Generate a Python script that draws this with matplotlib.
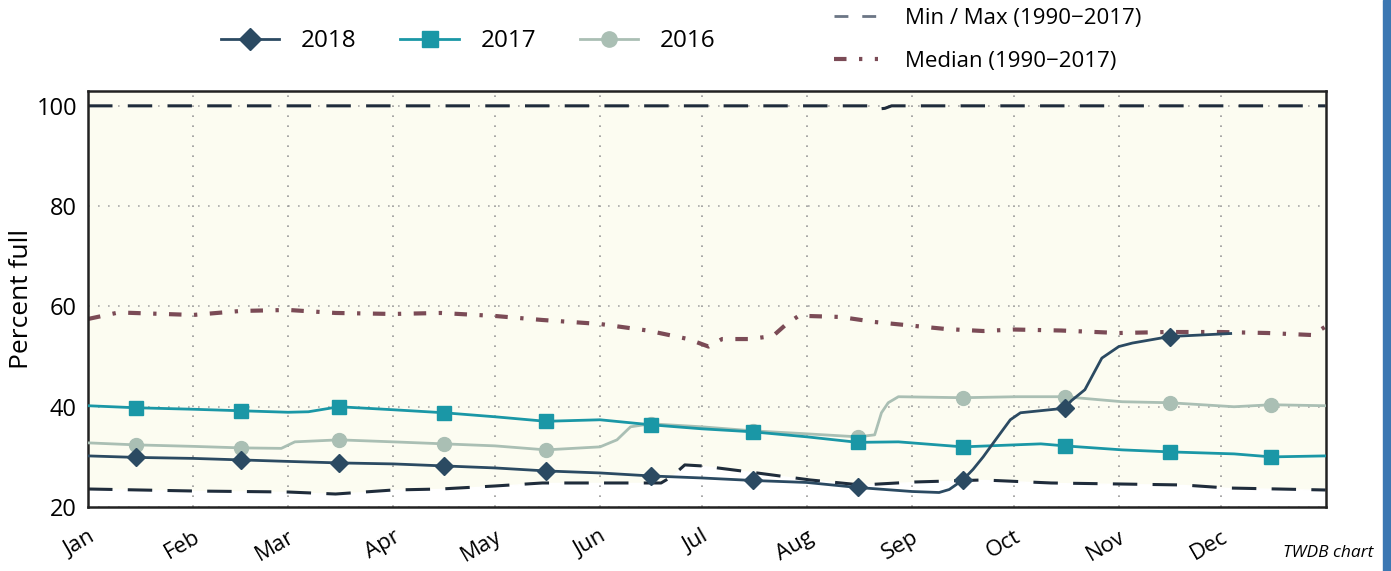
import matplotlib
matplotlib.use("Agg")
import matplotlib.pyplot as plt
from matplotlib.lines import Line2D
from matplotlib.patches import Rectangle

plt.rcParams['font.family'] = ['Open Sans', 'DejaVu Sans']

# day of year -> percent full
d2018 = [1, 15, 32, 46, 60, 75, 91, 106, 121, 136, 152, 167, 182, 197, 213, 228, 244, 252, 255,
         259, 262, 265, 268, 273, 276, 289, 291, 295, 300, 305, 309, 320, 338]
v2018 = [30.2, 29.9, 29.7, 29.4, 29.1, 28.8, 28.6, 28.2, 27.8, 27.2, 26.8, 26.2, 25.8, 25.3, 24.9, 23.9,
         23.1, 22.9, 23.5, 25.4, 27.5, 30.0, 32.8, 37.4, 38.8, 39.7, 41.2, 43.4, 49.7, 52.0, 52.7, 54.0, 54.6]

d2017 = [1, 15, 32, 46, 60, 66, 75, 91, 106, 121, 136, 152, 167, 182, 197, 213, 228, 240,
         259, 282, 289, 306, 320, 339, 350, 366]
v2017 = [40.2, 39.8, 39.5, 39.2, 38.9, 39.0, 40.0, 39.4, 38.8, 38.0, 37.1, 37.4, 36.4, 35.6, 35.0, 34.0,
         32.9, 33.0, 32.0, 32.6, 32.2, 31.4, 31.0, 30.6, 30.0, 30.2]

d2016 = [1, 15, 32, 46, 58, 62, 75, 91, 106, 121, 136, 152, 157, 161, 167, 182, 197, 213, 228,
         233, 235, 237, 240, 259, 275, 289, 306, 320, 339, 350, 366]
v2016 = [32.8, 32.4, 32.1, 31.8, 31.7, 33.0, 33.4, 33.0, 32.6, 32.2, 31.4, 32.0, 33.4, 36.0, 36.6, 36.0,
         35.2, 34.6, 34.0, 34.4, 38.8, 40.8, 42.0, 41.8, 42.0, 42.0, 41.0, 40.8, 40.0, 40.4, 40.2]

d_min = [1, 32, 60, 74, 91, 105, 121, 135, 152, 170, 173, 177, 182, 196, 214, 229, 245, 265,
         285, 305, 324, 337, 352, 366]
v_min = [23.6, 23.2, 23.0, 22.6, 23.4, 23.6, 24.2, 24.8, 24.8, 24.8, 26.0, 28.4, 28.2, 27.0, 25.4, 24.4,
         25.0, 25.4, 24.8, 24.6, 24.4, 23.8, 23.6, 23.4]

d_max = [1, 231, 233, 236, 238, 366]
v_max = [100, 100, 99.3, 99.5, 100, 100]

d_med = [1, 10, 32, 46, 60, 74, 91, 105, 121, 135, 152, 166, 178, 184, 188, 196, 203, 207, 211,
         213, 223, 233, 245, 254, 265, 274, 288, 305, 319, 335, 349, 362, 366]
v_med = [57.5, 58.8, 58.3, 59.1, 59.3, 58.7, 58.5, 58.7, 58.1, 57.3, 56.5, 55.2, 53.5, 52.0, 53.5, 53.5,
         54.1, 56.5, 58.3, 58.1, 57.9, 56.9, 56.1, 55.5, 55.1, 55.4, 55.2, 54.7, 54.9, 54.9, 54.7, 54.3, 56.0]

month_start = [1, 32, 60, 91, 121, 152, 182, 213, 244, 274, 305, 335]
months = ["Jan", "Feb", "Mar", "Apr", "May", "Jun", "Jul", "Aug", "Sep", "Oct", "Nov", "Dec"]
mid_days = [15, 46, 75, 106, 136, 167, 197, 228, 259, 289, 320, 350]

C18 = "#2b4a62"
C17 = "#1a97a6"
C16 = "#aabfb4"
CMED = "#7b4b56"
CMM = "#1f2c3b"


def marks(days):
    return [i for i, d in enumerate(days) if d in mid_days]


fig = plt.figure(figsize=(13.91, 5.71), dpi=100)
ax = fig.add_axes([0.0633, 0.112, 0.8897, 0.729])
ax.set_facecolor("#fcfcf1")

ax.fill_between(d_min, 19, v_min, color="white", zorder=1)

for y in [20, 40, 60, 80, 100]:
    ax.axhline(y, color="#aaaaaa", lw=1.2, ls=(0, (1, 5)), zorder=1.5)
for x in month_start[1:]:
    ax.axvline(x, color="#999999", lw=1.2, ls=(0, (1, 5)), zorder=1.5)

ax.plot(d_max, v_max, color=CMM, lw=2.2, ls=(0, (8, 5)), zorder=2)
ax.plot(d_min, v_min, color=CMM, lw=2.2, ls=(0, (8, 5)), zorder=2)
ax.plot(d_med, v_med, color=CMED, lw=3, ls=(0, (3, 3, 0.8, 3)), zorder=2)

ax.plot(d2016, v2016, color=C16, lw=2, marker="o", ms=10, markevery=marks(d2016), zorder=3)
ax.plot(d2017, v2017, color=C17, lw=2, marker="s", ms=10, markevery=marks(d2017), zorder=4)
ax.plot(d2018, v2018, color=C18, lw=2, marker="D", ms=9.5, markevery=marks(d2018), zorder=5)

ax.set_xlim(1, 366)
ax.set_ylim(20, 103)
ax.set_yticks([20, 40, 60, 80, 100])
ax.set_xticks(month_start)
ax.set_xticklabels(months, rotation=30, ha="right", rotation_mode="anchor")
ax.tick_params(axis="y", labelsize=17, length=0, pad=8)
ax.tick_params(axis="x", labelsize=16, length=0, pad=14)
ax.set_ylabel("Percent full", fontsize=19)
ax.yaxis.set_label_coords(-0.044, 0.5)
for s in ax.spines.values():
    s.set_linewidth(1.8)
    s.set_color("#222222")

h1 = [Line2D([], [], color=C18, lw=2, marker="D", ms=11),
      Line2D([], [], color=C17, lw=2, marker="s", ms=11),
      Line2D([], [], color=C16, lw=2, marker="o", ms=11)]
leg1 = fig.legend(h1, ["2018", "2017", "2016"], loc="center left", bbox_to_anchor=(0.143, 0.928),
                  ncol=3, frameon=False, fontsize=17.5, handlelength=2.4, handletextpad=0.9,
                  columnspacing=1.8)

h2 = [Line2D([], [], color="#6b7685", lw=2, ls=(0, (5, 5))),
      Line2D([], [], color=CMED, lw=3, ls=(0, (3, 3, 0.8, 3)))]
leg2 = fig.legend(h2, ["Min / Max (1990\u22122017)", "Median (1990\u22122017)"], loc="center left",
                  bbox_to_anchor=(0.585, 0.93), frameon=False, fontsize=16, handlelength=2.0,
                  handletextpad=1.2, labelspacing=1.0)

fig.text(0.987, 0.018, "TWDB chart", fontsize=12.5, style="italic", ha="right", va="bottom")
fig.patches.append(Rectangle((0.9945, 0), 0.0055, 1, transform=fig.transFigure,
                             color="#3b77b2", zorder=0))

fig.savefig("out.png", dpi=100)
